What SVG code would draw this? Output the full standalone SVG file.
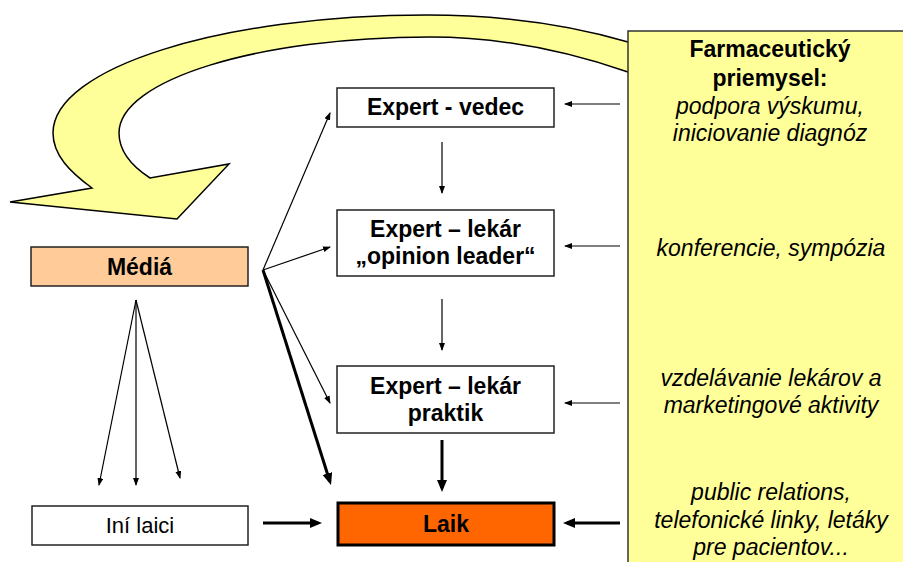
<svg xmlns="http://www.w3.org/2000/svg" width="903" height="562" viewBox="0 0 903 562">
<defs>
<marker id="thin" markerUnits="userSpaceOnUse" markerWidth="9" markerHeight="7" refX="7" refY="3" orient="auto"><path d="M0,0 L8,3 L0,6 z" fill="#000"/></marker>
<marker id="thick" markerUnits="userSpaceOnUse" markerWidth="13" markerHeight="11" refX="8" refY="5" orient="auto"><path d="M0,0 L12,5 L0,10 z" fill="#000"/></marker>
<style>
.box{stroke:#222;stroke-width:1.5}
.t{font-family:"Liberation Sans",Arial,sans-serif;font-size:23px;text-anchor:middle;fill:#000}
.b{font-weight:bold}
.i{font-style:italic}
.c1{stroke:#000;stroke-width:1.2;fill:none;marker-end:url(#thin)}
.c3{stroke:#000;stroke-width:3;fill:none;marker-end:url(#thick)}
</style>
</defs>
<rect width="903" height="562" fill="#fff"/>
<g id="curved-arrow">
<path d="M628,42 C570,25 500,15 427,15 C221,15 53,68 53,133 C53,155 70,172 92,188 L10,202 L177,219 L229,164 L150,178 C130,165 119,150 119,133 C119,80 258,37 430,37 C500,37 570,52 628,72 L660,72 L660,42 Z" fill="#FFFF99" stroke="#000" stroke-width="1.5" stroke-linejoin="miter"/>
</g>
<g id="farma">
<rect x="628" y="31" width="290" height="545" fill="#FFFF99" stroke="#333" stroke-width="1.5"/>
<text class="t b" x="770" y="57">Farmaceutický</text>
<text class="t b" x="770" y="86">priemysel:</text>
<text class="t i" x="770" y="114">podpora výskumu,</text>
<text class="t i" x="770" y="141">iniciovanie diagnóz</text>
<text class="t i" x="771" y="256">konferencie, sympózia</text>
<text class="t i" x="771" y="386">vzdelávanie lekárov a</text>
<text class="t i" x="771" y="413">marketingové aktivity</text>
<text class="t i" x="771" y="500">public relations,</text>
<text class="t i" x="771" y="528">telefonické linky, letáky</text>
<text class="t i" x="771" y="555">pre pacientov...</text>
</g>
<g id="vedec">
<rect class="box" x="337" y="88" width="217" height="39" fill="#fff"/>
<text class="t b" x="445.5" y="115">Expert - vedec</text>
</g>
<g id="opinion">
<rect class="box" x="337" y="210" width="217" height="66" fill="#fff"/>
<text class="t b" x="445.5" y="237">Expert – lekár</text>
<text class="t b" x="445.5" y="264">„opinion leader“</text>
</g>
<g id="praktik">
<rect class="box" x="337" y="366" width="217" height="67" fill="#fff"/>
<text class="t b" x="445.5" y="394">Expert – lekár</text>
<text class="t b" x="445.5" y="421">praktik</text>
</g>
<g id="laik">
<rect x="338" y="503" width="216" height="42" fill="#FF6600" stroke="#000" stroke-width="3"/>
<text class="t b" x="446" y="532">Laik</text>
</g>
<g id="media">
<rect class="box" x="31" y="247" width="217" height="39" fill="#FFCC99"/>
<text class="t b" x="139.5" y="275">Médiá</text>
</g>
<g id="ini-laici">
<rect class="box" x="32" y="506" width="216" height="39" fill="#fff"/>
<text class="t" x="140" y="533" style="font-size:22px">Iní laici</text>
</g>
<g id="connectors">
<path class="c1" d="M263,270 L330,113"/>
<path class="c1" d="M263,270 L330,247"/>
<path class="c1" d="M263,270 L330,403"/>
<path class="c3" d="M263,270 L329.8,481.2"/>
<path class="c1" d="M442,142 L442,193"/>
<path class="c1" d="M442,299 L442,350"/>
<path class="c3" d="M442,440 L442,488"/>
<path class="c3" d="M263,523 L318,523"/>
<path class="c3" d="M620,523 L567,523"/>
<path class="c1" d="M620,104 L565,104"/>
<path class="c1" d="M620,246 L565,246"/>
<path class="c1" d="M620,403 L565,403"/>
<path class="c1" d="M136,300 L99,485"/>
<path class="c1" d="M136,300 L136,485"/>
<path class="c1" d="M136,300 L180,478"/>
</g>
</svg>
